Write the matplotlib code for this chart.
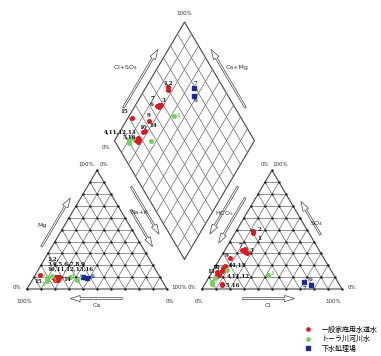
import numpy as np
import matplotlib.pyplot as plt

H = np.sqrt(3) / 2
GAP = 0.25
OFF = 1 + GAP

# tap water (一般家庭用水道水), samples 1-16, meq %
tap_no = list(range(1, 17))
tap_ca = [74, 74, 75, 74, 76, 76, 73, 72, 75, 74, 73, 75, 74, 74, 85, 76]
tap_mg = [9, 10, 8, 10, 9, 8, 9, 10, 9, 9, 10, 8, 10, 8, 12, 9]
tap_na = [17, 16, 17, 16, 15, 16, 18, 18, 16, 17, 17, 17, 16, 18, 3, 15]
tap_hco3 = [40, 39, 53, 83, 84, 55, 52, 54, 67, 76, 84, 82, 82, 74, 78, 84]
tap_so4 = [47, 49, 30, 12, 3, 33, 34, 31, 26, 18, 11, 12, 14, 19, 15, 4]
tap_cl = [13, 12, 17, 5, 13, 12, 14, 15, 7, 6, 5, 6, 4, 7, 7, 12]

# Tuul river water, samples 1-5
riv_no = [1, 2, 3, 4, 5]
riv_ca = [60, 81, 77, 64, 82]
riv_mg = [8, 9, 11, 10, 7]
riv_na = [32, 10, 12, 26, 11]
riv_hco3 = [47, 90, 86, 74, 91]
riv_so4 = [12, 6, 9, 16, 4]
riv_cl = [41, 4, 5, 10, 5]

# sewage treatment plant, samples 6 and 7
sew_no = [6, 7]
sew_ca = [53, 55]
sew_mg = [9, 10]
sew_na = [38, 35]
sew_hco3 = [24, 21]
sew_so4 = [6, 3]
sew_cl = [70, 76]


def cation_xy(mg, na):
    mg, na = np.asarray(mg) / 100, np.asarray(na) / 100
    return na + mg / 2, mg * H


def anion_xy(so4, cl):
    so4, cl = np.asarray(so4) / 100, np.asarray(cl) / 100
    return OFF + cl + so4 / 2, so4 * H


def diamond_xy(ca, mg, so4, cl):
    cm = (np.asarray(ca) + np.asarray(mg)) / 100
    a = (np.asarray(so4) + np.asarray(cl)) / 100
    return 1 + GAP / 2 + 0.5 * (a - cm), GAP * H + H * (a + cm)


fig = plt.figure(figsize=(3.81, 3.56), dpi=100)
ax = fig.add_axes([0, 0, 1, 1])
ax.set_xlim(-27 / 140, 354 / 140)
ax.set_ylim(-67 / 137, 289 / 137)
ax.axis('off')

GRID = dict(color='#666666', lw=0.5, zorder=1)
EDGE = dict(color='#444444', lw=0.8, zorder=1)


def draw_triangle(p0, p1, p2):
    p0, p1, p2 = map(np.array, (p0, p1, p2))
    ax.plot(*np.array([p0, p1, p2, p0]).T, **EDGE)
    for f in np.arange(1, 10) / 10:
        for a, b, c in ((p0, p1, p2), (p1, p2, p0), (p2, p0, p1)):
            s, e = a + f * (b - a), a + f * (c - a)
            ax.plot([s[0], e[0]], [s[1], e[1]], **GRID)
    for i in range(11):
        for j in range(11 - i):
            q = p0 + i / 10 * (p1 - p0) + j / 10 * (p2 - p0)
            ax.plot(q[0], q[1], 's', ms=0.7, color='#222222', zorder=1)


def draw_diamond(bt, lf, tp, rt):
    bt, lf, tp, rt = map(np.array, (bt, lf, tp, rt))
    ax.plot(*np.array([bt, lf, tp, rt, bt]).T, **EDGE)
    for f in np.arange(1, 10) / 10:
        s, e = bt + f * (rt - bt), lf + f * (tp - lf)
        ax.plot([s[0], e[0]], [s[1], e[1]], **GRID)
        s, e = bt + f * (lf - bt), rt + f * (tp - rt)
        ax.plot([s[0], e[0]], [s[1], e[1]], **GRID)


def edge_arrow(p, q, centre, t0, t1, d=0.065):
    p, q = np.array(p), np.array(q)
    e = q - p
    n = np.array([-e[1], e[0]]) / np.hypot(*e)
    if np.dot(n, (p + q) / 2 - np.array(centre)) < 0:
        n = -n
    ax.annotate('', xy=p + t1 * e + d * n, xytext=p + t0 * e + d * n,
                arrowprops=dict(arrowstyle='simple,head_length=0.7,head_width=0.45,tail_width=0.13',
                                fc='white', ec='#444444', lw=0.5))


# outlines
LA, LB, LC = (0, 0), (1, 0), (0.5, H)
RA, RB, RC = (OFF, 0), (OFF + 1, 0), (OFF + 0.5, H)
DB = (1 + GAP / 2, GAP * H)
DL = (0.5 + GAP / 2, (1 + GAP) * H)
DT = (1 + GAP / 2, (2 + GAP) * H)
DR = (1.5 + GAP / 2, (1 + GAP) * H)
draw_triangle(LA, LB, LC)
draw_triangle(RA, RB, RC)
draw_diamond(DB, DL, DT, DR)

lc = np.mean([LA, LB, LC], axis=0)
rc = np.mean([RA, RB, RC], axis=0)
dc = np.mean([DB, DL, DT, DR], axis=0)
edge_arrow(LA, LC, lc, 0.3, 0.75)
edge_arrow(LC, LB, lc, 0.35, 0.7)
edge_arrow(LB, LA, lc, 0.3, 0.71, d=0.07)
edge_arrow(RC, RA, rc, 0.25, 0.67)
edge_arrow(RB, RC, rc, 0.4, 0.72)
edge_arrow(RA, RB, rc, 0.27, 0.68, d=0.07)
edge_arrow(DL, DT, dc, 0.22, 0.75)
edge_arrow(DR, DT, dc, 0.22, 0.75)
edge_arrow(DL, DB, dc, 0.33, 0.77)
edge_arrow(DR, DB, dc, 0.33, 0.77)

AX = dict(fontsize=4.5, color='#333333', ha='center', va='center')
ax.text(0.11, 0.46, 'Mg', **AX)
ax.text(0.5, -0.12, 'Ca', **AX)
ax.text(0.80, 0.56, 'Na+K', **AX)
ax.text(1.41, 0.55, 'HCO$_3$', **AX)
ax.text(2.07, 0.48, 'SO$_4$', **AX)
ax.text(1.72, -0.12, 'Cl', **AX)
ax.text(0.70, 1.62, 'Cl+SO$_4$', **AX)
ax.text(1.50, 1.62, 'Ca+Mg', **AX)

PC = dict(fontsize=4, color='#333333', va='center')
ax.text(DT[0], DT[1] + 0.06, '100%', ha='center', **PC)
ax.text(DL[0] - 0.03, DL[1] - 0.05, '0%', ha='right', **PC)
ax.text(LC[0] - 0.02, LC[1] + 0.04, '100%', ha='right', **PC)
ax.text(LC[0] + 0.02, LC[1] + 0.04, '0%', ha='left', **PC)
ax.text(LA[0] - 0.04, LA[1] + 0.01, '0%', ha='right', **PC)
ax.text(LA[0] - 0.02, LA[1] - 0.09, '100%', ha='center', **PC)
ax.text(LB[0] + 0.03, LB[1] + 0.01, '100%', ha='left', **PC)
ax.text(LB[0] + 0.02, LB[1] - 0.09, '0%', ha='center', **PC)
ax.text(RC[0] - 0.02, RC[1] + 0.04, '0%', ha='right', **PC)
ax.text(RC[0] + 0.0, RC[1] + 0.04, '100%', ha='left', **PC)
ax.text(RA[0] - 0.04, RA[1] + 0.01, '0%', ha='right', **PC)
ax.text(RA[0] - 0.02, RA[1] - 0.09, '0%', ha='center', **PC)
ax.text(RB[0] + 0.04, RB[1] + 0.01, '0%', ha='left', **PC)
ax.text(RB[0] - 0.06, RB[1] - 0.09, '100%', ha='center', **PC)

RED, GREEN, BLUE = '#e3161e', '#6fd458', '#1b2a9a'
groups = [
    ('一般家庭用水道水', RED, 'o', tap_ca, tap_mg, tap_na, tap_so4, tap_cl),
    ('トーラ川河川水', GREEN, 'o', riv_ca, riv_mg, riv_na, riv_so4, riv_cl),
    ('下水処理場', BLUE, 's', sew_ca, sew_mg, sew_na, sew_so4, sew_cl),
]
pos = {}
for name, col, mk, ca, mg, na, so4, cl in groups:
    c = cation_xy(mg, na)
    a = anion_xy(so4, cl)
    d = diamond_xy(ca, mg, so4, cl)
    pos[col] = (c, a, d)
    for k, (x, y) in enumerate((c, a, d)):
        ax.plot(x, y, mk, ms=2.6, color=col, mec=col, ls='', zorder=3,
                label=name if k == 0 else None)

LB_FONT = dict(fontsize=4, family='DejaVu Serif', weight='bold', zorder=4)


def tag(text, col, panel, idx, dx, dy, ha='center', va='center', tcol='#111111'):
    x, y = pos[col][panel]
    ax.annotate(text, (x[idx], y[idx]), xytext=(dx, dy), textcoords='offset points',
                ha=ha, va=va, color=tcol, linespacing=1.05, **LB_FONT)


# cation triangle
tag('1,2,\n3,4,5,6,7,8,9\n10,11,12,13,16', RED, 0, 0, -7, 5, ha='left', va='bottom')
tag('15', RED, 0, 14, -1, -3, va='top')
tag('14', RED, 0, 13, 4, 0, ha='left')
tag('6', BLUE, 0, 0, 3, 1, ha='left', tcol=BLUE)
for i, (dx, dy) in enumerate([(2, 2), (-3, 1), (2, -3), (2, 1), (-3, -3)]):
    tag(str(riv_no[i]), GREEN, 0, i, dx, dy, tcol=GREEN)

# anion triangle
tag('2', RED, 1, 1, 3, 1, ha='left')
tag('1', RED, 1, 0, 3, -4, ha='left')
tag('7', RED, 1, 6, -2, 2, ha='right')
tag('3', RED, 1, 2, 2, 2, ha='left')
tag('9', RED, 1, 8, -1, 2, ha='right')
tag('10', RED, 1, 9, -2, 0, ha='right')
tag('14,15', RED, 1, 13, 2, 1, ha='left')
tag('13', RED, 1, 12, -2, 1, ha='right')
tag('4,11,12', RED, 1, 11, 6, -1, ha='left')
tag('5 16', RED, 1, 4, 3, 0, ha='left')
tag('6', BLUE, 1, 0, 3, 2, ha='left', tcol=BLUE)
tag('7', BLUE, 1, 1, -3, -2, ha='right', tcol=BLUE)
tag('1', GREEN, 1, 0, 2, 1, ha='left', tcol=GREEN)

# diamond
tag('1,2', RED, 2, 0, 0, 3, va='bottom')
tag('7', RED, 2, 6, -6, 5)
tag('6', RED, 2, 5, -3, 1, ha='right')
tag('3', RED, 2, 2, 2, 3, ha='left')
tag('15', RED, 2, 14, -3, 3, ha='right', va='bottom')
tag('9', RED, 2, 8, 0, 2, va='bottom')
tag('10', RED, 2, 9, 0, 2, va='bottom')
tag('14', RED, 2, 13, 3, 2, ha='left', va='bottom')
tag('4,11,12,13\n5,16', RED, 2, 3, -1, 4, ha='right')
tag('7', BLUE, 2, 1, 1, 2, va='bottom', tcol=BLUE)
tag('6', BLUE, 2, 0, 1, -2, va='top', tcol=BLUE)
tag('1', GREEN, 2, 0, 2, 0, ha='left', tcol=GREEN)

leg = ax.legend(loc='lower right', bbox_to_anchor=(1.0, 0.0), frameon=False,
                prop={'family': ['Noto Sans CJK JP', 'DejaVu Sans'], 'size': 5},
                handlelength=0.6, handletextpad=1.6, labelspacing=0.2,
                borderaxespad=0.1, markerscale=0.9)

fig.savefig('out.png', dpi=100)
